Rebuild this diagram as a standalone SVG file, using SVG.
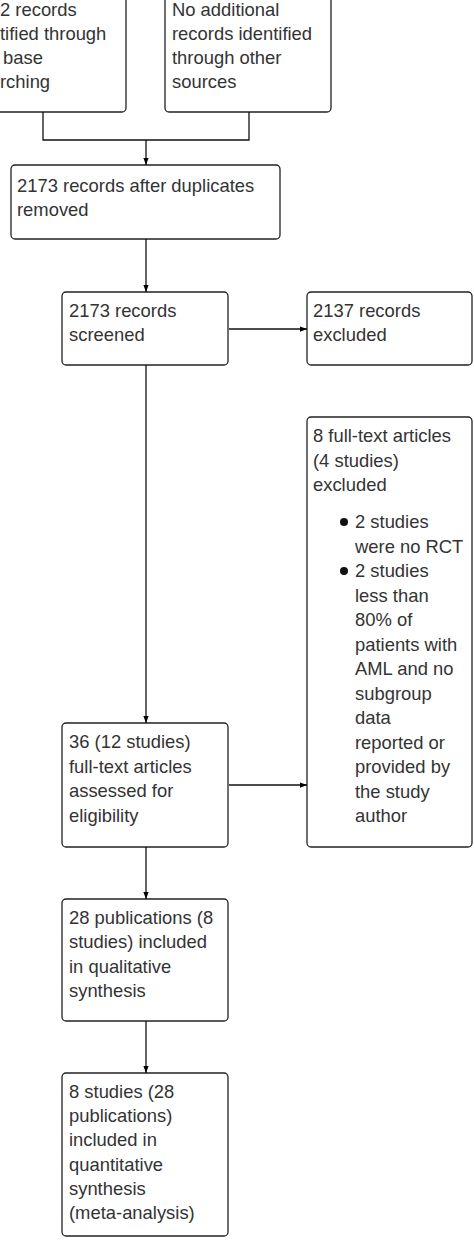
<svg xmlns="http://www.w3.org/2000/svg" width="474" height="1245" viewBox="0 0 474 1245">
<defs>
<marker id="arr" viewBox="0 0 8 8" refX="8" refY="4" markerWidth="7" markerHeight="7" markerUnits="userSpaceOnUse" orient="auto">
<path d="M0,1 L8,4 L0,7 Z" fill="#000"/>
</marker>
</defs>
<style>
.box{fill:#fff;stroke:#222;stroke-width:1.3}
.t{font-family:"Liberation Sans",Arial,sans-serif;font-size:18.4px;fill:#333}
.c{fill:none;stroke:#111;stroke-width:1.3}
</style>
<rect width="474" height="1245" fill="#fff"/>
<g id="n1">
<rect class="box" x="-20" y="-10" width="146" height="122" rx="4"/>
<text class="t"><tspan x="0" y="16">2 records</tspan><tspan x="0" y="40">tified through</tspan><tspan x="3" y="64">base</tspan><tspan x="0" y="88">rching</tspan></text>
</g>
<g id="n2">
<rect class="box" x="165" y="-10" width="166" height="122" rx="4"/>
<text class="t"><tspan x="172" y="16">No additional</tspan><tspan x="172" y="40">records identified</tspan><tspan x="172" y="64">through other</tspan><tspan x="172" y="88">sources</tspan></text>
</g>
<g id="n3">
<rect class="box" x="11" y="165" width="269" height="74" rx="4"/>
<text class="t"><tspan x="17" y="191.5">2173 records after duplicates</tspan><tspan x="17" y="215.5">removed</tspan></text>
</g>
<g id="n4">
<rect class="box" x="62" y="292" width="166" height="73" rx="4"/>
<text class="t"><tspan x="69" y="317">2173 records</tspan><tspan x="69" y="341">screened</tspan></text>
</g>
<g id="n5">
<rect class="box" x="307" y="292" width="165" height="73" rx="4"/>
<text class="t"><tspan x="313" y="317">2137 records</tspan><tspan x="313" y="341">excluded</tspan></text>
</g>
<g id="n6">
<rect class="box" x="307" y="417" width="165" height="430" rx="4"/>
<text class="t"><tspan x="313" y="442">8 full-text articles</tspan><tspan x="313" y="466.5">(4 studies)</tspan><tspan x="313" y="491">excluded</tspan></text>
<circle cx="344" cy="522" r="4" fill="#111"/>
<circle cx="344" cy="571" r="4" fill="#111"/>
<text class="t"><tspan x="355" y="528">2 studies</tspan><tspan x="355" y="552.5">were no RCT</tspan><tspan x="355" y="577">2 studies</tspan><tspan x="355" y="601.5">less than</tspan><tspan x="355" y="626">80% of</tspan><tspan x="355" y="650.5">patients with</tspan><tspan x="355" y="675">AML and no</tspan><tspan x="355" y="699.5">subgroup</tspan><tspan x="355" y="724">data</tspan><tspan x="355" y="748.5">reported or</tspan><tspan x="355" y="773">provided by</tspan><tspan x="355" y="797.5">the study</tspan><tspan x="355" y="822">author</tspan></text>
</g>
<g id="n7">
<rect class="box" x="62" y="723" width="166" height="124" rx="4"/>
<text class="t"><tspan x="69" y="748">36 (12 studies)</tspan><tspan x="69" y="772.5">full-text articles</tspan><tspan x="69" y="797">assessed for</tspan><tspan x="69" y="821.5">eligibility</tspan></text>
</g>
<g id="n8">
<rect class="box" x="62" y="899" width="166" height="122" rx="4"/>
<text class="t"><tspan x="69" y="924">28 publications (8</tspan><tspan x="69" y="948.3">studies) included</tspan><tspan x="69" y="972.6">in qualitative</tspan><tspan x="69" y="997">synthesis</tspan></text>
</g>
<g id="n9">
<rect class="box" x="62" y="1073" width="166" height="163" rx="4"/>
<text class="t"><tspan x="69" y="1098">8 studies (28</tspan><tspan x="69" y="1122.2">publications)</tspan><tspan x="69" y="1146.4">included in</tspan><tspan x="69" y="1170.6">quantitative</tspan><tspan x="69" y="1194.8">synthesis</tspan><tspan x="69" y="1219">(meta-analysis)</tspan></text>
</g>
<g id="connectors">
<path class="c" d="M43,112 V140 H249 V112"/>
<path class="c" d="M146,140 V165" marker-end="url(#arr)"/>
<path class="c" d="M146,239 V292" marker-end="url(#arr)"/>
<path class="c" d="M229,329 H307" marker-end="url(#arr)"/>
<path class="c" d="M146,365 V723" marker-end="url(#arr)"/>
<path class="c" d="M229,785 H307" marker-end="url(#arr)"/>
<path class="c" d="M146,847 V899" marker-end="url(#arr)"/>
<path class="c" d="M146,1021 V1073" marker-end="url(#arr)"/>
</g>
</svg>
